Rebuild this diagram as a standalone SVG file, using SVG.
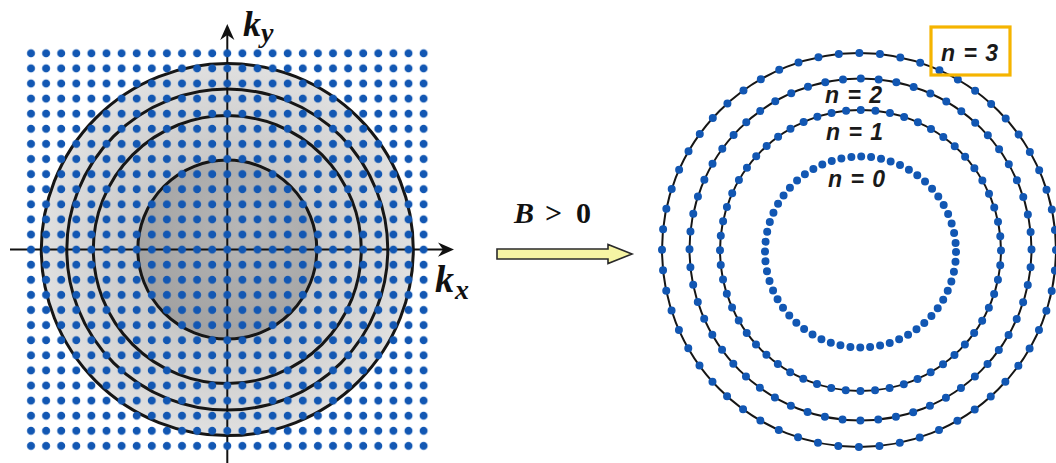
<svg xmlns="http://www.w3.org/2000/svg" width="1056" height="463" viewBox="0 0 1056 463">
<style>
.ring{fill:none;stroke:#161616;stroke-width:3}
.lvl{fill:none;stroke:#161616;stroke-width:2}
.dots{fill:none;stroke:#1257b3;stroke-width:8;stroke-linecap:round}
.axis{stroke:#111;stroke-width:2;fill:none}
.head{fill:#111}
.klab{font-family:"Liberation Serif",serif;font-weight:bold;font-style:italic;fill:#111}
.nlab{font-family:"Liberation Sans",Arial,sans-serif;font-weight:bold;font-style:italic;font-size:23px;word-spacing:2px;fill:#1a1a1a}
.blab{font-family:"Liberation Serif",serif;font-size:30px;font-weight:bold;fill:#111}
</style>
<defs>
<radialGradient id="gOuter" cx="227.3" cy="249.6" r="186" gradientUnits="userSpaceOnUse">
<stop offset="0.45" stop-color="#c6c6c6"/>
<stop offset="1" stop-color="#e0e0e0"/>
</radialGradient>
<radialGradient id="gInner" cx="250" cy="220" r="120" gradientUnits="userSpaceOnUse">
<stop offset="0" stop-color="#b8b8b8"/>
<stop offset="1" stop-color="#a2a2a2"/>
</radialGradient>
<pattern id="grid" patternUnits="userSpaceOnUse" x="23.45" y="45.75" width="15.1" height="15.1">
<circle cx="7.55" cy="7.55" r="4" fill="#1257b3"/>
</pattern>
</defs>
<rect width="1056" height="463" fill="#ffffff"/>

<g id="fermi-sea">
<circle cx="227.3" cy="249.6" r="186" fill="url(#gOuter)"/>
<circle cx="227.3" cy="249.6" r="89.5" fill="url(#gInner)"/>
<circle class="ring" cx="227.3" cy="249.6" r="89.5"/>
<circle class="ring" cx="227.3" cy="249.6" r="134"/>
<circle class="ring" cx="227.3" cy="249.6" r="160.5"/>
<circle class="ring" cx="227.3" cy="249.6" r="186"/>
</g>

<g id="axes">
<line class="axis" x1="10" y1="249.6" x2="450" y2="249.6"/>
<path class="head" d="M454,249.6 L438,242.5 L443,249.6 L438,256.7 Z"/>
<line class="axis" x1="227.3" y1="463" x2="227.3" y2="29"/>
<path class="head" d="M227.3,24 L220.2,40 L227.3,35 L234.4,40 Z"/>
</g>

<g id="k-grid">
<rect x="23.45" y="45.75" width="407.7" height="407.7" fill="url(#grid)"/>
</g>

<g id="label-ky">
<text class="klab" x="243" y="36" font-size="36">k</text>
<text class="klab" x="261" y="42" font-size="28">y</text>
</g>
<g id="label-kx">
<text class="klab" x="435" y="292" font-size="38">k</text>
<text class="klab" x="455" y="299" font-size="28">x</text>
</g>

<g id="connectors">
<polygon points="497,249 608,249 608,244.5 632,254 608,263.5 608,259 497,259" fill="#f6f4a4" stroke="#2a2a2a" stroke-width="1.6" stroke-linejoin="miter"/>
<text class="blab" y="223"><tspan x="514" font-style="italic">B</tspan><tspan x="545">&gt;</tspan><tspan x="576">0</tspan></text>
</g>

<g id="level-0">
<circle class="dots" cx="860.5" cy="252" r="95.5" stroke-dasharray="0 10.0007"/>
<text class="nlab" x="828" y="187">n = 0</text>
</g>
<g id="level-1">
<circle class="lvl" cx="860.5" cy="250.5" r="140.5"/>
<circle class="dots" cx="860.5" cy="250.5" r="140.5" stroke-dasharray="0 14.7131"/>
<text class="nlab" x="826" y="140">n = 1</text>
</g>
<g id="level-2">
<circle class="lvl" cx="860.5" cy="249.5" r="171"/>
<circle class="dots" cx="860.5" cy="249.5" r="171" stroke-dasharray="0 17.9071"/>
<text class="nlab" x="825" y="103">n = 2</text>
</g>
<g id="level-3">
<circle class="lvl" cx="859" cy="250" r="197"/>
<circle class="dots" cx="859" cy="250" r="197" stroke-dasharray="0 20.6298"/>
<rect x="931" y="27" width="79" height="48" fill="none" stroke="#f5b400" stroke-width="3.2"/>
<text class="nlab" x="941" y="61">n = 3</text>
</g>
</svg>
